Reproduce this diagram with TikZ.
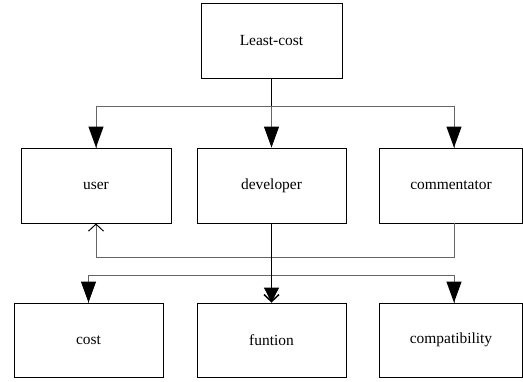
\documentclass[tikz,border=0pt]{standalone}
\usepackage{fontspec}
\setmainfont{Liberation Serif}
\usetikzlibrary{arrows.meta}
\begin{document}
\begin{tikzpicture}[x=1bp,y=-1bp,
  box/.style={draw=black,line width=0.9bp,rectangle,inner sep=0pt,
    minimum height=75bp,font=\fontsize{15.5}{18}\selectfont},
  link/.style={draw=black!60,line width=1bp},
  fill tip/.style={-{Triangle[black,length=21bp,width=15bp]}},
  open tip/.style={-{Straight Barb[black,length=7bp,width=15bp]}},
]
\useasboundingbox (0,0) rectangle (523,381);

% boxes
\node[box,minimum width=141bp] (top)  at (271.5,40.5)  {Least-cost};
\node[box,minimum width=150bp] (user) at (96,185.5)    {user};
\node[box,minimum width=149bp] (dev)  at (271.5,185.5) {developer};
\node[box,minimum width=143bp] (com)  at (451,185.5)   {commentator};
\node[box,minimum width=149bp,minimum height=74bp] (cost) at (88.5,340) {cost};
\node[box,minimum width=149bp,minimum height=74bp] (fun)  at (271.5,340) {funtion};
\node[box,minimum width=143bp,minimum height=74bp] (comp) at (451,340) {compatibility};

% split points
\coordinate (s1) at (271.5,106);
\coordinate (s2) at (271.5,275);

% top level fan-out
\draw[link] (s1) -| (user.north);
\draw[link] (s1) -| ([xshift=3bp]com.north);
\draw[draw=black,line width=1.3bp] (top.south) -- (s1);
\draw[link,fill tip,shorten <=-0.5bp] (user.north |- s1) -- (user.north);
\draw[link,fill tip] (s1) -- (dev.north);
\draw[link,fill tip] ([xshift=3bp]com.north |- s1) -- ([xshift=3bp]com.north);

% feedback from commentator to user
\draw[link,open tip] ([xshift=3bp]com.south) |- (96,257) -- (user.south);

% developer to lower level
\draw[link] (s2) -| (cost.north);
\draw[link] (s2) -| ([xshift=3bp]comp.north);
\draw[link,-{Triangle[black,length=15bp,width=15bp]}] (s2) -- (fun.north);
\draw[link,fill tip] (cost.north |- s2) -- (cost.north);
\draw[link,fill tip] ([xshift=3bp]comp.north |- s2) -- ([xshift=3bp]comp.north);
\draw[draw=black,line width=1.5bp,open tip] (dev.south) -- (fun.north);
\end{tikzpicture}
\end{document}
